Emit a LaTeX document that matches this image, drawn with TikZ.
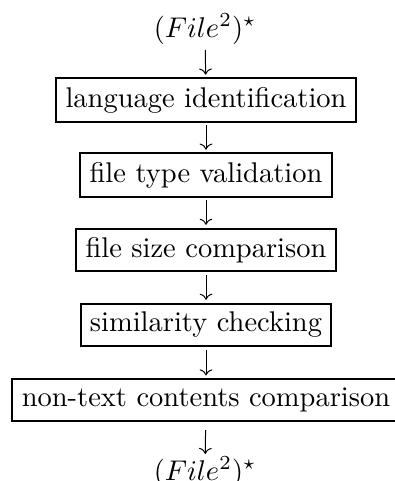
\documentclass[tikz,border=0pt]{standalone}
\usetikzlibrary{arrows.meta}
\begin{document}
\begin{tikzpicture}[x=0.351pt,y=-0.351pt,
  stepbox/.style={draw,line width=0.7pt,inner xsep=3.3pt,inner ysep=3pt},
  flowlabel/.style={inner sep=0pt,anchor=base},
  flowarrow/.style={-{To[scale=0.9]},line width=0.35pt}]
\useasboundingbox (0,0) rectangle (394,481);
\node[flowlabel] (in) at (205,37) {$(File^2)^\star$};
\node[stepbox] (b1) at (206,100) {language identification};
\node[stepbox] (b2) at (206,175) {file type validation};
\node[stepbox] (b3) at (206,250) {file size comparison};
\node[stepbox] (b4) at (206,325) {similarity checking};
\node[stepbox] (b5) at (206,400) {non-text contents comparison};
\node[flowlabel] (out) at (205,480) {$(File^2)^\star$};
\draw[flowarrow,shorten <=1.8pt,shorten >=1pt] (in) -- (b1);
\draw[flowarrow,shorten <=1pt,shorten >=1pt] (b1) -- (b2);
\draw[flowarrow,shorten <=1pt,shorten >=1pt] (b2) -- (b3);
\draw[flowarrow,shorten <=1pt,shorten >=1pt] (b3) -- (b4);
\draw[flowarrow,shorten <=1pt,shorten >=1pt] (b4) -- (b5);
\draw[flowarrow,shorten <=3pt,shorten >=0.8pt] (b5) -- (out);
\end{tikzpicture}
\end{document}
